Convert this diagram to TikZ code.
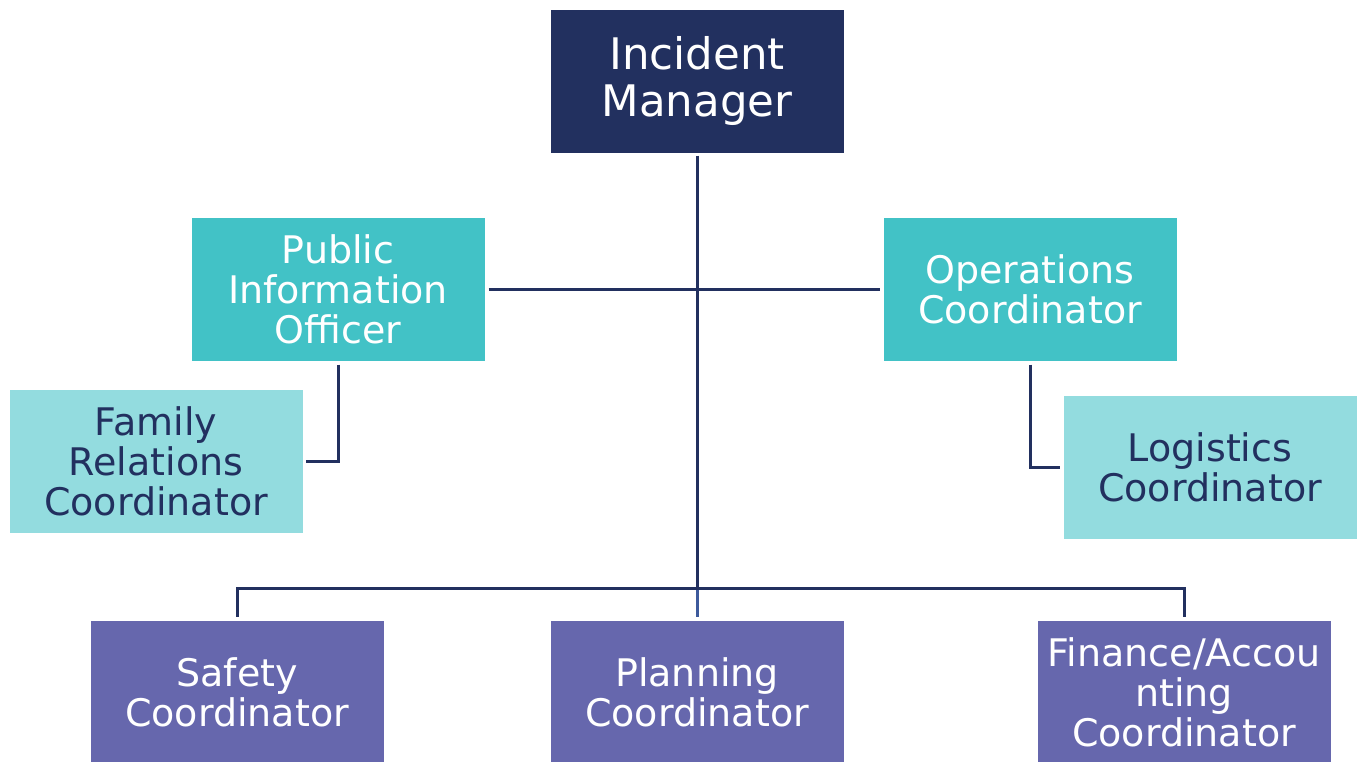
\documentclass[tikz,border=0pt]{standalone}
\usepackage{fontspec}
\setmainfont{DejaVu Sans}
\definecolor{navy}{HTML}{22305F}
\definecolor{teal}{HTML}{42C2C6}
\definecolor{paleteal}{HTML}{93DCDF}
\definecolor{violet}{HTML}{6667AD}
\definecolor{linkblue}{HTML}{3D5A9C}
\tikzset{
  box/.style={rectangle, minimum width=293pt, minimum height=143pt, inner sep=0pt,
    align=center, font=\fontsize{38}{40}\selectfont},
  topbox/.style={box, fill=navy, text=white, font=\fontsize{43.5}{46.5}\selectfont},
  midbox/.style={box, fill=teal, text=white},
  subbox/.style={box, fill=paleteal, text=navy},
  lowbox/.style={box, fill=violet, text=white},
  link/.style={draw=navy, line width=3pt},
}
\begin{document}
\begin{tikzpicture}[x=1pt, y=-1pt]
  \useasboundingbox (0,0) rectangle (1361,761);
  \clip (0,0) rectangle (1361,761);

  % boxes
  \node[topbox] (im) at (697,81) {Incident\\Manager};
  \node[midbox] (pio) at (338,289) {Public\\Information\\Officer};
  \node[midbox] (ops) at (1030,289) {Operations\\Coordinator};
  \node[subbox] (family) at (156,461) {Family\\Relations\\Coordinator};
  \node[subbox] (logistics) at (1210,467) {Logistics\\Coordinator};
  \node[lowbox] (safety) at (237,692.5) {Safety\\Coordinator};
  \node[lowbox] (planning) at (697,692.5) {Planning\\Coordinator};
  \node[lowbox] (finance) at (1184,692.5) {Finance/Accou\\nting\\Coordinator};

  % junction of the lower bus
  \coordinate (hub) at (697,588);

  % connectors
  \draw[link, shorten <=3pt] (im.south) -- (hub);
  \draw[link, draw=linkblue, shorten >=4pt] (hub) -- (planning.north);
  \draw[link, shorten <=4pt, shorten >=3pt] (pio.east) -- (ops.west);
  \draw[link, shorten <=4pt, shorten >=4pt] (safety.north) |- (hub) -| (finance.north);
  \draw[link, shorten <=4pt, shorten >=3pt] (pio.south) |- (family.east);
  \draw[link, shorten <=4pt, shorten >=3pt] (ops.south) |- (logistics.west);
\end{tikzpicture}
\end{document}
